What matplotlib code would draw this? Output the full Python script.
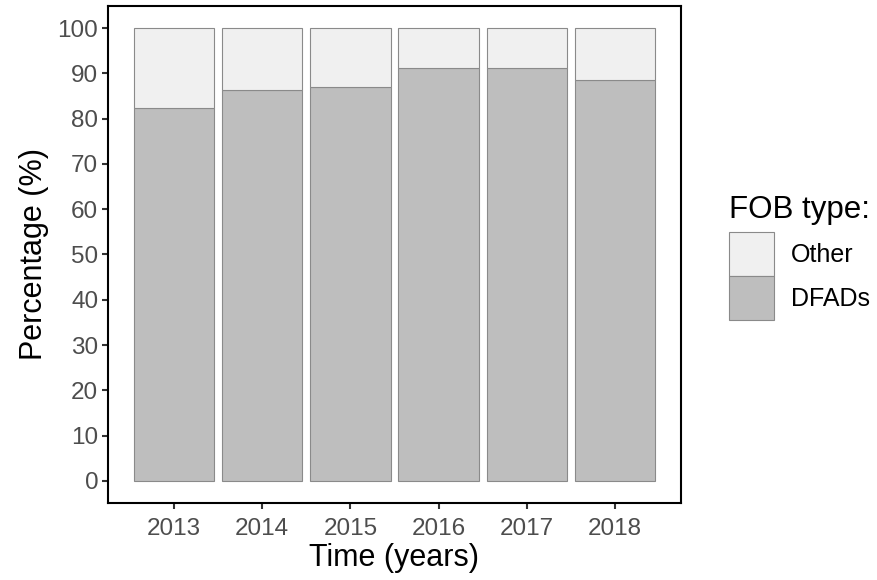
import matplotlib
matplotlib.use("Agg")
import matplotlib.pyplot as plt
import numpy as np

plt.rcParams['font.family'] = ['Liberation Sans', 'DejaVu Sans']

# data
years = ['2013', '2014', '2015', '2016', '2017', '2018']
dfads = [82.4, 86.4, 86.9, 91.1, 91.3, 88.5]
other = [100 - v for v in dfads]

col_dfads = '#BEBEBE'
col_other = '#F0F0F0'
edge = '#8A8A8A'

fig = plt.figure(figsize=(8.77, 5.8), dpi=100)
ax = fig.add_axes([0.1231, 0.132, 0.6534, 0.8585])

x = np.arange(1, len(years) + 1)
b1 = ax.bar(x, dfads, width=0.91, color=col_dfads, edgecolor=edge, linewidth=0.8, label='DFADs')
b2 = ax.bar(x, other, bottom=dfads, width=0.91, color=col_other, edgecolor=edge, linewidth=0.8, label='Other')

ax.set_xlim(0.25, 6.75)
ax.set_ylim(-5, 105)
ax.set_yticks(range(0, 101, 10))
ax.set_xticks(x)
ax.set_xticklabels(years)

ax.tick_params(axis='both', colors='#333333', labelcolor='#4D4D4D', labelsize=17.5,
               length=4.5, width=1.5, pad=2.5)
ax.tick_params(axis='x', pad=6)
for s in ax.spines.values():
    s.set_linewidth(1.5)
    s.set_color('black')

ax.set_xlabel('Time (years)', fontsize=22, labelpad=2)
ax.set_ylabel('Percentage (%)', fontsize=22, labelpad=6)

leg = ax.legend(handles=[b2, b1], labels=['Other', 'DFADs'], title='FOB type:',
                loc='upper left', bbox_to_anchor=(0.831, 0.663), bbox_transform=fig.transFigure,
                frameon=False, fontsize=18, title_fontsize=22.5,
                handlelength=1.8, handleheight=2.35, labelspacing=0.0,
                handletextpad=0.7, borderpad=0, borderaxespad=0)
leg._legend_box.align = 'left'
leg._legend_box.sep = 4.5

fig.savefig('out.png', dpi=100)
